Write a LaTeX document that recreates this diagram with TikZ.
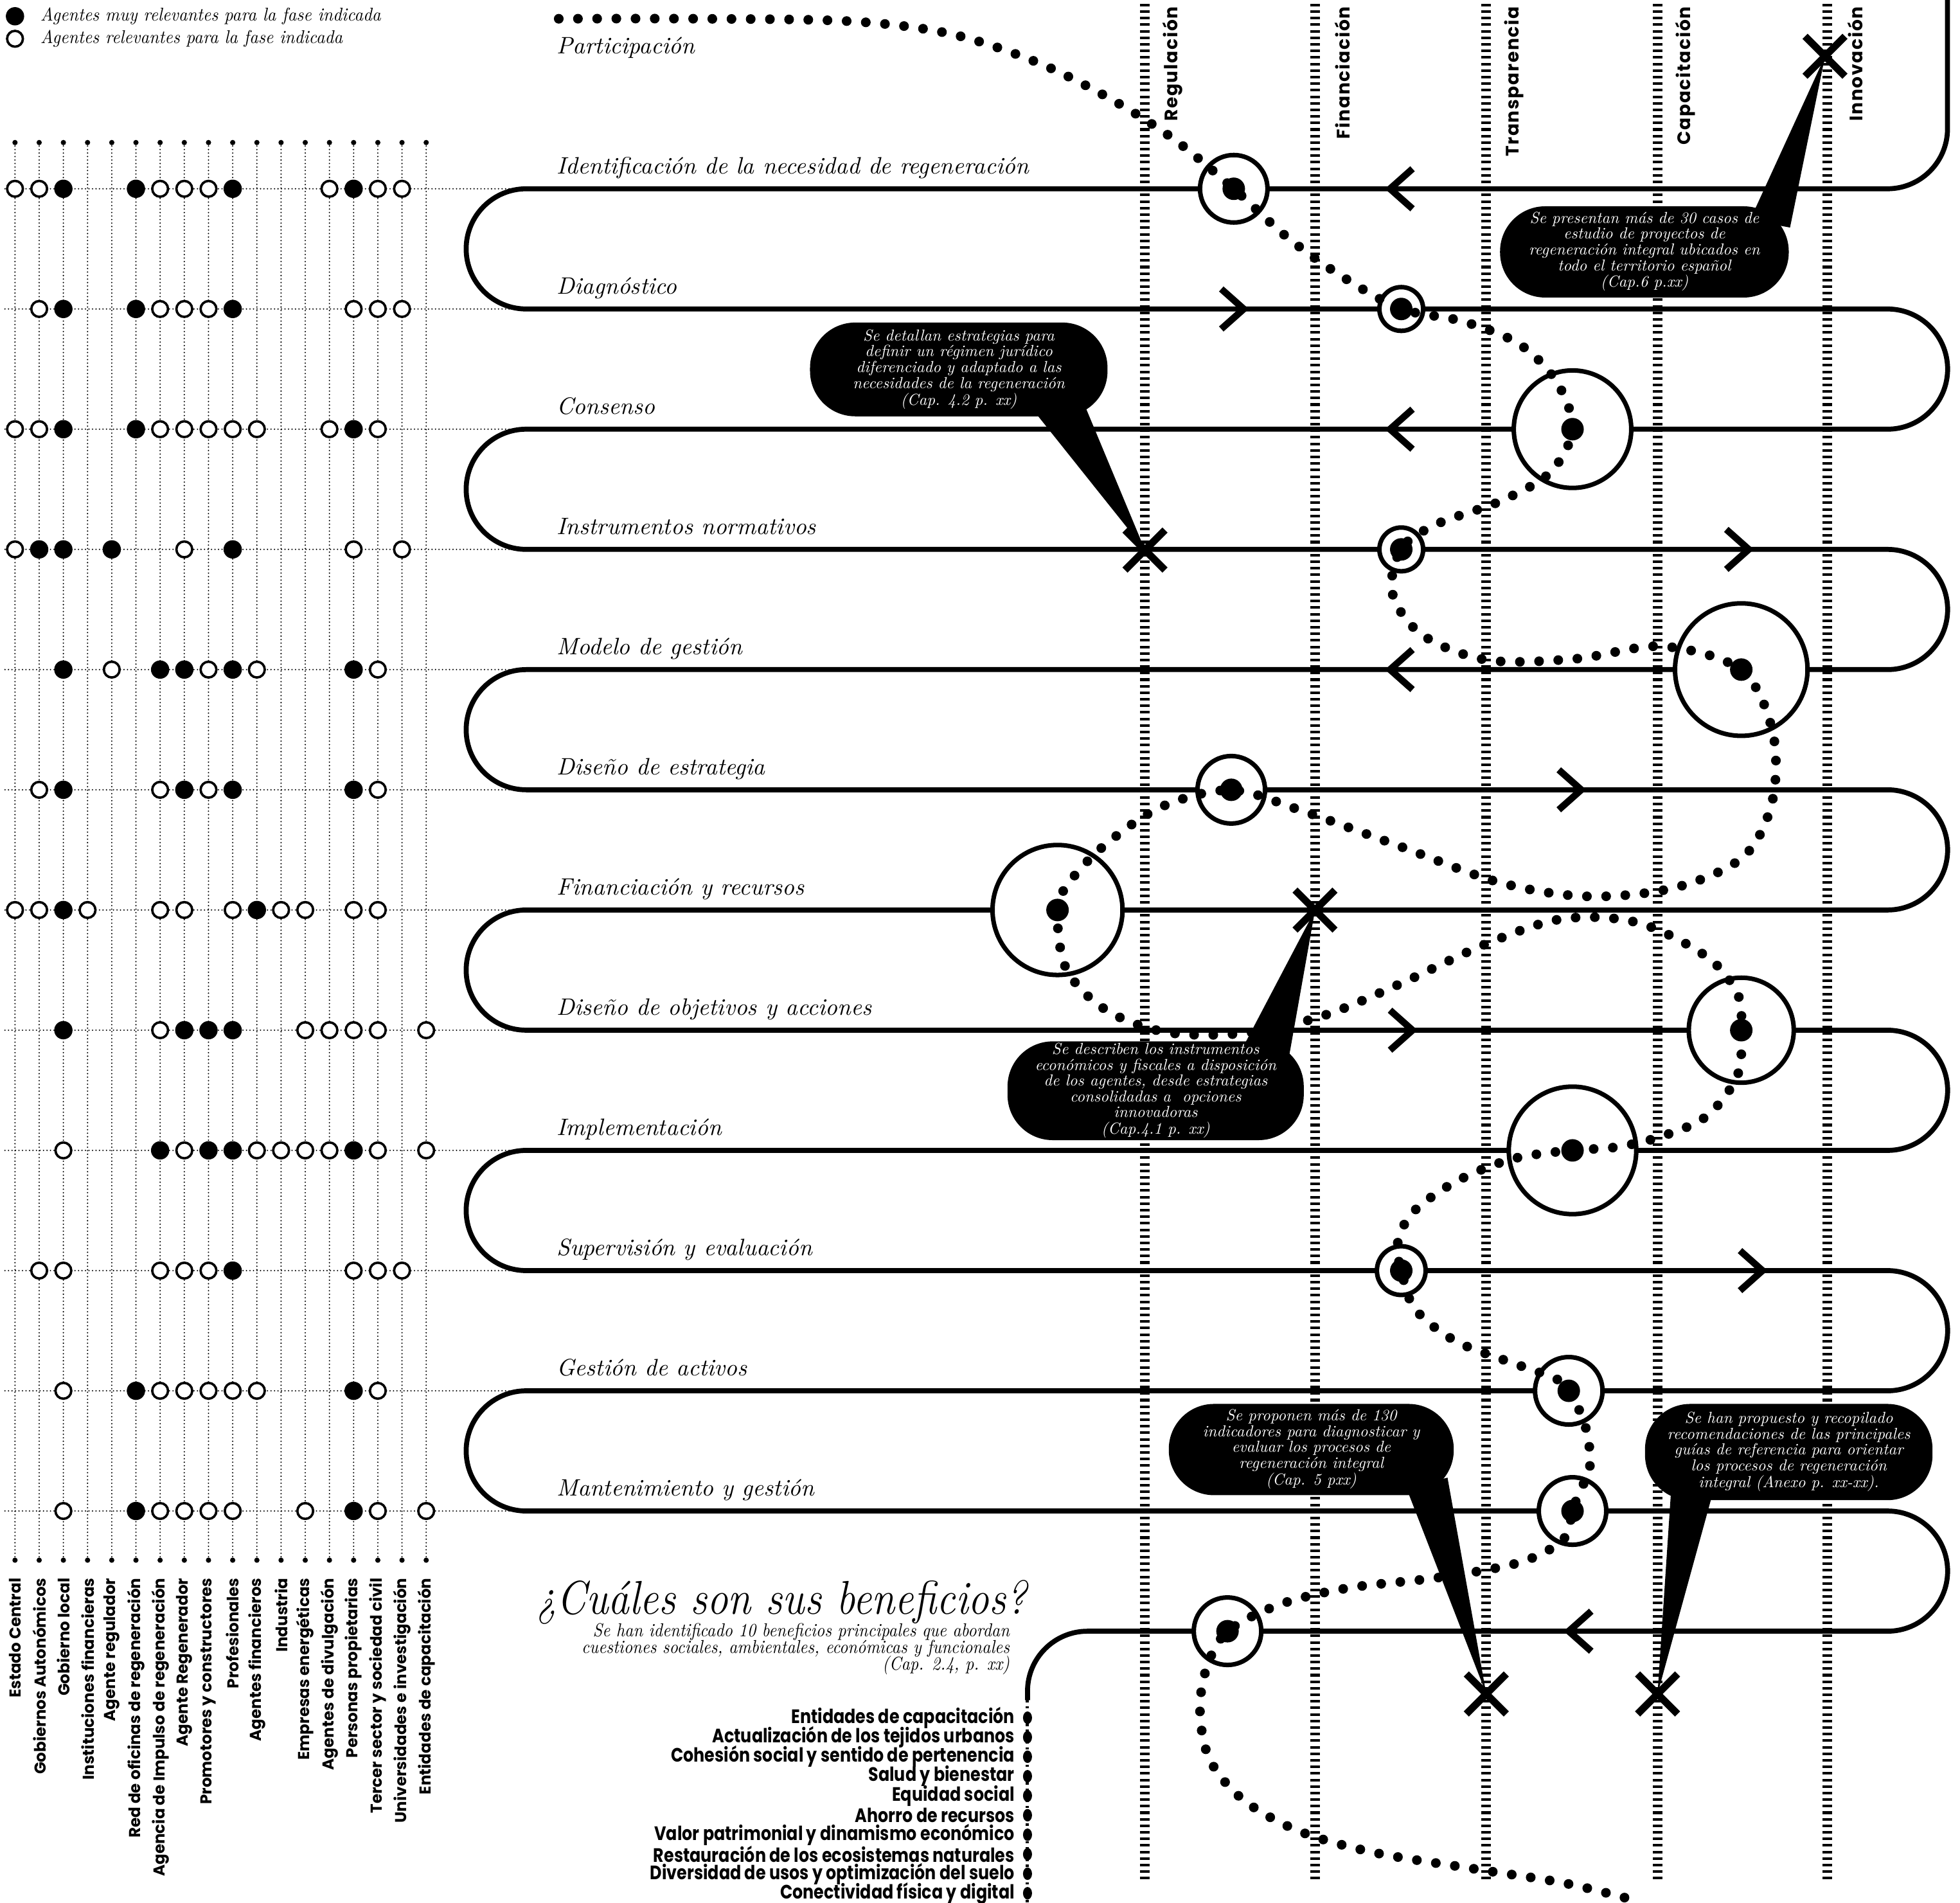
\documentclass[tikz,border=0pt]{standalone}
\usepackage{fontspec}
\usepackage{graphicx}
\newfontfamily\pop{Poppins}
\newfontfamily\popls{Poppins}[LetterSpace=6]
\usetikzlibrary{shapes.misc,calc}
\newcommand\ctext[1]{\scalebox{0.71}{\fontsize{10}{9.6}\selectfont\itshape\begin{tabular}{@{}c@{}}#1\end{tabular}}}
\newcommand\legtxt[1]{\scalebox{0.77}[0.82]{\fontsize{10}{12}\selectfont\itshape #1}}
\newcommand\subtxt[1]{\scalebox{0.745}[0.83]{\fontsize{10}{12}\selectfont\itshape #1}}
\begin{document}
\begin{tikzpicture}[x=0.01945cm,y=0.01945cm,
  snake/.style={line width=2.2pt},
  colline/.style={line width=4.3pt, dash pattern=on 1.15pt off 1.75pt},
  gridl/.style={line width=0.65pt, line cap=round, dash pattern=on 0pt off 1.55pt},
  journey/.style={line width=4.3pt, line cap=round, dash pattern=on 0pt off 8.5pt},
  ringn/.style={circle, draw, fill=white, line width=2pt, inner sep=0pt},
  agO/.style={circle, draw, fill=white, line width=1.05pt, inner sep=0pt, minimum size=7pt},
  agF/.style={circle, fill=black, inner sep=0pt, minimum size=8.1pt},
  chev/.style={line width=3pt, miter limit=10},
  xmk/.style={cross out, draw, line width=3.2pt, inner sep=0pt, minimum size=14.5pt},
  callout/.style={fill=black, text=white, rounded corners=20pt, inner sep=0pt, align=center},
  phase/.style={anchor=base west, inner sep=0pt, font=\itshape\fontsize{10.5}{12}\selectfont},
  agentlab/.style={rotate=90, anchor=east, inner sep=0pt, font=\pop\bfseries\fontsize{7}{8}\selectfont},
  collab/.style={rotate=90, anchor=east, inner sep=0pt, font=\popls\bfseries\fontsize{8}{9}\selectfont},
  legtext/.style={anchor=west, inner sep=0pt},
  benef/.style={anchor=east, inner sep=0pt, font=\pop\bfseries\fontsize{8.6}{9}\selectfont}
]
\useasboundingbox (0,0) rectangle (1568,-1522);
\fill[white] (0,0) rectangle (1568,-1522);

% ---------- agent grid ----------
\foreach \c in {1,...,18}{
  \pgfmathsetmacro\ax{12+19.35*(\c-1)}
  \draw[gridl] (\ax,-114) -- (\ax,-1248);
  \fill (\ax,-114) circle[radius=2.1];
  \fill (\ax,-1248) circle[radius=2.1];
}
\foreach \r in {1,...,12}{
  \pgfmathsetmacro\ay{-(151+96.15*(\r-1))}
  \draw[gridl] (4,\ay) -- (419,\ay);
}

% ---------- columns ----------
\foreach \colx/\lab in {916/Regulación, 1052/Financiación, 1189/Transparencia, 1326/Capacitación, 1462/Innovación}{
  \draw[colline] (\colx,-3) -- (\colx,-1505);
  \node[collab] at (\colx+22,-5) {\lab};
}

% ---------- snake ----------
\draw[snake] (1558,0) -- (1558,-102.92) arc[start angle=0,end angle=-90,radius=48.075]
 -- (421,-151) arc[start angle=90,end angle=270,radius=48.075]
 -- (1510,-247.15) arc[start angle=90,end angle=-90,radius=48.075]
 -- (421,-343.3) arc[start angle=90,end angle=270,radius=48.075]
 -- (1510,-439.45) arc[start angle=90,end angle=-90,radius=48.075]
 -- (421,-535.6) arc[start angle=90,end angle=270,radius=48.075]
 -- (1510,-631.75) arc[start angle=90,end angle=-90,radius=48.075]
 -- (421,-727.9) arc[start angle=90,end angle=270,radius=48.075]
 -- (1510,-824.05) arc[start angle=90,end angle=-90,radius=48.075]
 -- (421,-920.2) arc[start angle=90,end angle=270,radius=48.075]
 -- (1510,-1016.35) arc[start angle=90,end angle=-90,radius=48.075]
 -- (421,-1112.5) arc[start angle=90,end angle=270,radius=48.075]
 -- (1510,-1208.65) arc[start angle=90,end angle=-90,radius=48.075]
 -- (870,-1304.8) arc[start angle=90,end angle=180,radius=48]
 -- (822,-1360);

% ---------- chevrons ----------
\foreach \tx/\ty/\d in {1112/151/1, 995/247.15/-1, 1112/343.3/1, 1399/439.45/-1, 1112/535.6/1, 1265/631.75/-1, 1130/824.05/-1, 1410/1016.35/-1, 1255/1304.8/1}
  \draw[chev] (\tx+18*\d,-\ty+16) -- (\tx,-\ty) -- (\tx+18*\d,-\ty-16);

% ---------- rings ----------
\foreach \n/\rx/\ry/\rr in {1/987/151/27, 2/1121/247.15/17.5, 3/1258/343.3/47, 4/1121/439.45/17.5, 5/1393/535.6/53, 6/985/631.75/27, 7/846/727.9/52, 8/1393/824.05/42, 9/1258/920.2/51, 10/1121/1016.35/19.5, 11/1255/1112.5/27, 12/1258/1208.65/27, 13/982/1304.8/27}
  \node[ringn, minimum size=2*\rr*0.5535pt] (ring\n) at (\rx,-\ry) {};

% ---------- journey ----------
\draw[journey] plot[smooth, tension=0.55] coordinates {
(447,-15) (560,-15) (680,-17) (760,-27) (830,-50) (890,-80) (940,-112) (987,-151)
(1030,-190) (1075,-222) (1121,-247)
(1170,-257) (1215,-275) (1245,-305) (1258,-343)
(1240,-378) (1200,-401) (1150,-419) (1121,-439)
(1114,-475) (1138,-508) (1190,-528) (1260,-527) (1330,-517) (1393,-536)
(1418,-585) (1418,-640) (1395,-685) (1340,-710) (1270,-717) (1200,-706) (1120,-677) (1040,-648) (985,-632)
(930,-645) (885,-675) (856,-705) (846,-728)
(853,-775) (885,-808) (935,-826) (1000,-826) (1060,-812) (1120,-787) (1189,-755) (1250,-735) (1310,-738) (1365,-765) (1390,-795) (1393,-824)
(1390,-860) (1365,-893) (1326,-910) (1290,-918) (1258,-920)
(1210,-927) (1165,-945) (1130,-970) (1118,-995) (1121,-1016)
(1132,-1047) (1165,-1073) (1215,-1092) (1245,-1103) (1255,-1112)
(1268,-1140) (1272,-1172) (1262,-1197) (1258,-1209)
(1250,-1232) (1215,-1250) (1150,-1262) (1080,-1270) (1025,-1283) (982,-1305)
(965,-1335) (960,-1370) (968,-1408) (995,-1440) (1040,-1465) (1100,-1482) (1180,-1495) (1250,-1506) (1300,-1518)};

\foreach \n in {1,...,13} \fill (ring\n.center) circle[radius=9];

% ---------- X marks ----------
\node[xmk] (x1) at (1460,-45) {};
\node[xmk] (x2) at (916,-440) {};
\node[xmk] (x3) at (1052,-728) {};
\node[xmk] (x4) at (1189,-1355) {};
\node[xmk] (x5) at (1326,-1355) {};

% ---------- callouts ----------
\fill (1400,-176) -- (x1.center) -- (1432,-182) -- cycle;
\fill (825,-326) -- (x2.center) -- (866,-320) -- cycle;
\fill (990,-846) -- (x3.center) -- (1030,-852) -- cycle;
\fill (1125,-1190) -- (x4.center) -- (1158,-1182) -- cycle;
\fill (1337,-1190) -- (x5.center) -- (1370,-1195) -- cycle;

\node[callout, minimum width=231*0.5535pt, minimum height=73*0.5535pt] (cA) at (1315.5,-201.5)
 {\ctext{Se presentan más de 30 casos de\\estudio de proyectos de\\regeneración integral ubicados en\\todo el territorio español\\(Cap.6 p.xx)}};
\node[callout, minimum width=238*0.5535pt, minimum height=75*0.5535pt] (cB) at (767,-295.5)
 {\ctext{Se detallan estrategias para\\definir un régimen jurídico\\diferenciado y adaptado a las\\necesidades de la regeneración\\(Cap. 4.2 p. xx)}};
\node[callout, minimum width=237*0.5535pt, minimum height=79*0.5535pt] (cC) at (924.5,-872.5)
 {\ctext{Se describen los instrumentos\\económicos y fiscales a disposición\\de los agentes, desde estrategias\\consolidadas a\ \ opciones\\innovadoras\\(Cap.4.1 p. xx)}};
\node[callout, minimum width=228*0.5535pt, minimum height=73*0.5535pt] (cD) at (1049,-1159.5)
 {\ctext{Se proponen más de 130\\indicadores para diagnosticar y\\evaluar los procesos de\\regeneración integral\\(Cap. 5 pxx)}};
\node[callout, minimum width=230*0.5535pt, minimum height=77*0.5535pt] (cE) at (1431,-1161.5)
 {\ctext{Se han propuesto y recopilado\\recomendaciones de las principales\\guías de referencia para orientar\\los procesos de regeneración\\integral (Anexo p. xx-xx).}};

% ---------- phase labels ----------
\node[phase] (p0) at (445,-43) {Participación};
\foreach \n/\lab in {1/Identificación de la necesidad de regeneración, 2/Diagnóstico, 3/Consenso, 4/Instrumentos normativos, 5/Modelo de gestión, 6/Diseño de estrategia, 7/Financiación y recursos, 8/Diseño de objetivos y acciones, 9/Implementación, 10/Supervisión y evaluación, 11/Gestión de activos, 12/Mantenimiento y gestión}{
  \pgfmathsetmacro\py{-(151+96.15*(\n-1))+12}
  \node[phase] (p\n) at (445,\py) {\lab};
}

% ---------- legend ----------
\node[agF] (legF) at (12,-13) {};
\node[legtext] (legFt) at (32,-13) {\legtxt{Agentes muy relevantes para la fase indicada}};
\node[agO] (legO) at (12,-31) {};
\node[legtext] (legOt) at (32,-31) {\legtxt{Agentes relevantes para la fase indicada}};

% ---------- agents ----------
\foreach \r/\lst in {
 1/{1/O,2/O,3/F,6/F,7/O,8/O,9/O,10/F,14/O,15/F,16/O,17/O},
 2/{2/O,3/F,6/F,7/O,8/O,9/O,10/F,15/O,16/O,17/O},
 3/{1/O,2/O,3/F,6/F,7/O,8/O,9/O,10/O,11/O,14/O,15/F,16/O},
 4/{1/O,2/F,3/F,5/F,8/O,10/F,15/O,17/O},
 5/{3/F,5/O,7/F,8/F,9/O,10/F,11/O,15/F,16/O},
 6/{2/O,3/F,7/O,8/F,9/O,10/F,15/F,16/O},
 7/{1/O,2/O,3/F,4/O,7/O,8/O,10/O,11/F,12/O,13/O,15/O,16/O},
 8/{3/F,7/O,8/F,9/F,10/F,13/O,14/O,15/O,16/O,18/O},
 9/{3/O,7/F,8/O,9/F,10/F,11/O,12/O,13/O,14/O,15/F,16/O,18/O},
 10/{2/O,3/O,7/O,8/O,9/O,10/F,15/O,16/O,17/O},
 11/{3/O,6/F,7/O,8/O,9/O,10/O,11/O,15/F,16/O},
 12/{3/O,6/F,7/O,8/O,9/O,10/O,13/O,15/F,16/O,18/O}}{
  \foreach \c/\t in \lst {
    \pgfmathsetmacro\ay{-(151+96.15*(\r-1))}
    \pgfmathsetmacro\ax{12+19.35*(\c-1)}
    \node[ag\t] (ag-\r-\c) at (\ax,\ay) {};
  }
}
\foreach \c/\lab in {1/Estado Central, 2/Gobiernos Autonómicos, 3/Gobierno local, 4/Instituciones financieras, 5/Agente regulador, 6/Red de oficinas de regeneración, 7/Agencia de Impulso de regeneración, 8/Agente Regenerador, 9/Promotores y constructores, 10/Profesionales, 11/Agentes financieros, 12/Industria, 13/Empresas energéticas, 14/Agentes de divulgación, 15/Personas propietarias, 16/Tercer sector y sociedad civil, 17/Universidades e investigación, 18/Entidades de capacitación}{
  \pgfmathsetmacro\ax{12+19.35*(\c-1)}
  \node[agentlab] (al\c) at (\ax,-1262) {\lab};
}

% ---------- benefits ----------
\node[anchor=base east, inner sep=0pt, font=\itshape\fontsize{21}{24}\selectfont] (title) at (822,-1291) {\scalebox{0.885}[1]{¿Cuáles son sus beneficios?}};
\node[anchor=base east, inner sep=0pt] (subt1) at (808,-1309) {\subtxt{Se han identificado 10 beneficios principales que abordan}};
\node[anchor=base east, inner sep=0pt] (subt2) at (808,-1322.5) {\subtxt{cuestiones sociales, ambientales, económicas y funcionales}};
\node[anchor=base east, inner sep=0pt] (subt3) at (808,-1336) {\subtxt{(Cap. 2.4, p. xx)}};
\draw[line width=1.4pt, dash pattern=on 1pt off 1.6pt] (822,-1360) -- (822,-1522);
\foreach \k/\lab in {1/Entidades de capacitación, 2/Actualización de los tejidos urbanos, 3/Cohesión social y sentido de pertenencia, 4/Salud y bienestar, 5/Equidad social, 6/Ahorro de recursos, 7/Valor patrimonial y dinamismo económico, 8/Restauración de los ecosistemas naturales, 9/Diversidad de usos y optimización del suelo, 10/Conectividad física y digital}{
  \pgfmathsetmacro\by{-(1374+15.6*(\k-1))}
  \fill (822,\by) ellipse[x radius=3.6, y radius=5];
  \node[benef] (b\k) at (812,\by) {\scalebox{0.84}[1]{\lab}};
}
\end{tikzpicture}
\end{document}
